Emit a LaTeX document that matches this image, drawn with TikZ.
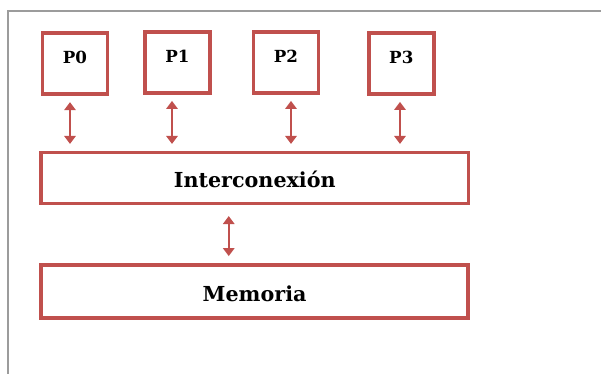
\documentclass[tikz,border=0pt]{standalone}
\usepackage{fontspec}
\setmainfont{DejaVu Serif}
\usetikzlibrary{arrows.meta}
\definecolor{boxred}{HTML}{C0504D}
\definecolor{framegray}{HTML}{9C9C9C}

\begin{document}
\begin{tikzpicture}[x=0.75pt,y=-0.75pt,
  cpu/.style={draw=boxred,line width=2.8pt,minimum width=48.75pt,minimum height=45.75pt,
    inner sep=0pt,text height=9pt,text depth=9pt,font=\bfseries\fontsize{12.5}{14}\selectfont},
  bar/.style={draw=boxred,line width=2.8pt,minimum width=320.6pt,inner sep=0pt,
    text height=14pt,text depth=0pt,font=\bfseries\fontsize{15.5}{18}\selectfont},
  link/.style={boxred,line width=1.7pt,
    {Triangle[length=6pt,width=8.5pt]}-{Triangle[length=6pt,width=8.5pt]}}]
\useasboundingbox (0,0) rectangle (601,374);
% Draw page frame
\draw[framegray,line width=1.2pt] (8,374)--(8,11)--(601,11);
% Draw processors
\foreach \i/\x/\y in {0/75/63.75, 1/177.5/62.5, 2/286/62.5, 3/401.3/63.5}
\node[cpu] (p\i) at (\x,\y) {P\i};
% Draw interconnect and memory
\node[bar,minimum height=38.25pt] (ic) at (254.75,178) {Interconexión};
\node[bar,minimum height=39.75pt] (mem) at (254.6,291.8) {Memoria};
% Draw links
\foreach \i/\dx in {0/-5, 1/-5.5, 2/5, 3/-1.3}
\draw[link,shorten <=4.5pt,shorten >=5pt] ([xshift=\dx*0.75pt]p\i.south)
  -- ([xshift=\dx*0.75pt]p\i.south |- ic.north);
\draw[link,shorten <=8pt,shorten >=5.5pt] ([xshift=-26*0.75pt]ic.south)
  -- ([xshift=-26*0.75pt]ic.south |- mem.north);
\end{tikzpicture}
\end{document}
